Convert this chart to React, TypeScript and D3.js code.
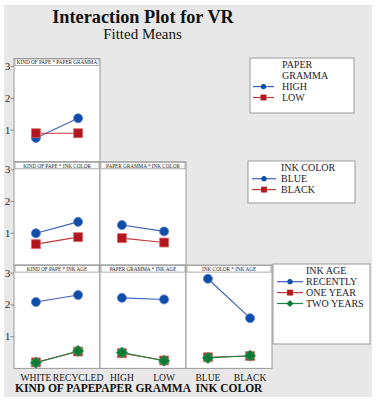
import React from "react";
import * as d3 from "d3";

const kindOfPaper = ["WHITE", "RECYCLED"];
const paperGramma = ["HIGH", "LOW"];
const inkColor = ["BLUE", "BLACK"];
const inkAge = ["RECENTLY", "ONE YEAR", "TWO YEARS"];
const yTicks = [1, 2, 3];

// Row 1: KIND OF PAPER * PAPER GRAMMA
const kpGrammaHigh = [0.75, 1.37];
const kpGrammaLow = [0.9, 0.9];
// Row 2: KIND OF PAPER * INK COLOR
const kpInkBlue = [1.0, 1.36];
const kpInkBlack = [0.66, 0.88];
// Row 2: PAPER GRAMMA * INK COLOR
const pgInkBlue = [1.26, 1.06];
const pgInkBlack = [0.85, 0.71];
// Row 3: KIND OF PAPER * INK AGE
const kpAgeRecently = [2.09, 2.31];
const kpAgeOneYear = [0.19, 0.53];
const kpAgeTwoYears = [0.18, 0.55];
// Row 3: PAPER GRAMMA * INK AGE
const pgAgeRecently = [2.22, 2.17];
const pgAgeOneYear = [0.48, 0.25];
const pgAgeTwoYears = [0.5, 0.24];
// Row 3: INK COLOR * INK AGE
const icAgeRecently = [2.82, 1.58];
const icAgeOneYear = [0.35, 0.39];
const icAgeTwoYears = [0.33, 0.4];

const FONT = "'Liberation Serif', 'Times New Roman', serif";
const BLUE = "#0f4ea8";
const BLUE_LINE = "#3c5fbb";
const RED = "#b2151d";
const RED_LINE = "#c23a3e";
const GREEN = "#0e7a38";
const GREEN_LINE = "#17883f";
const BORDER = "#9a9a9a";

const styles = [
  { fill: BLUE, line: BLUE_LINE, edge: "#5a7fcf", shape: d3.symbolCircle, size: 64, lsize: 22, rot: 0 },
  { fill: RED, line: RED_LINE, edge: "#d86a6a", shape: d3.symbolSquare, size: 80, lsize: 34, rot: 0 },
  { fill: GREEN, line: GREEN_LINE, edge: "#3aa05a", shape: d3.symbolSquare, size: 62, lsize: 26, rot: 45 },
];

const panels = [
  { row: 0, col: 0, strip: "KIND OF PAPE * PAPER GRAMMA", levels: kindOfPaper, series: [kpGrammaHigh, kpGrammaLow] },
  { row: 1, col: 0, strip: "KIND OF PAPE * INK COLOR", levels: kindOfPaper, series: [kpInkBlue, kpInkBlack] },
  { row: 1, col: 1, strip: "PAPER GRAMMA * INK COLOR", levels: paperGramma, series: [pgInkBlue, pgInkBlack] },
  { row: 2, col: 0, strip: "KIND OF PAPE * INK AGE", levels: kindOfPaper, series: [kpAgeRecently, kpAgeOneYear, kpAgeTwoYears] },
  { row: 2, col: 1, strip: "PAPER GRAMMA * INK AGE", levels: paperGramma, series: [pgAgeRecently, pgAgeOneYear, pgAgeTwoYears] },
  { row: 2, col: 2, strip: "INK COLOR * INK AGE", levels: inkColor, series: [icAgeRecently, icAgeOneYear, icAgeTwoYears] },
];

const colLevels = [kindOfPaper, paperGramma, inkColor];
const colTitles = ["KIND OF PAPER", "PAPER GRAMMA", "INK COLOR"];

const legends = [
  { title: ["PAPER", "GRAMMA"], items: paperGramma, box: [250, 58, 104, 55], lineX: [253, 274], textX: 282 },
  { title: ["INK COLOR"], items: inkColor, box: [248, 161, 107, 42], lineX: [252, 276], textX: 281 },
  { title: ["INK AGE"], items: inkAge, box: [273, 264, 97, 80], lineX: [277, 303], textX: 306 },
];

const LEFT = 14;
const PW = 86;
const TOP = 58.5;
const PH = 103.3;
const STRIP = 6.5;

export default function App() {
  const y = (row: number) =>
    d3.scaleLinear().domain([0, 3.25]).range([TOP + (row + 1) * PH, TOP + row * PH]);
  const x = (col: number, levels: string[]) =>
    d3.scalePoint<string>().domain(levels).range([LEFT + col * PW, LEFT + (col + 1) * PW]).padding(0.52);
  const sym = (i: number, big: boolean) =>
    d3.symbol().type(styles[i].shape).size(big ? styles[i].size : styles[i].lsize)() as string;
  const circ = (size: number) => d3.symbol().type(d3.symbolCircle).size(size)() as string;

  return (
    <svg width={379} height={404} style={{ position: "absolute", left: 0, top: 0, fontFamily: FONT }}>
      <defs>
        <clipPath id="col0clip">
          <rect x={0} y={380} width={96} height={20} />
        </clipPath>
      </defs>
      <rect x={0} y={0} width={379} height={404} fill="#ffffff" />
      <rect x={4} y={5} width={368} height={392} fill="#e8e8e8" />
      <text x={143} y={22.5} textAnchor="middle" fontSize={18.3} fontWeight="bold" fill="#111">
        Interaction Plot for VR
      </text>
      <text x={142.5} y={38.5} textAnchor="middle" fontSize={15} fill="#111">
        Fitted Means
      </text>

      {panels.map((p, pi) => {
        const ys = y(p.row);
        const xs = x(p.col, p.levels);
        const x0 = LEFT + p.col * PW;
        const y0 = TOP + p.row * PH;
        const line = d3
          .line<number>()
          .x((_, i) => xs(p.levels[i]) as number)
          .y((v) => ys(v));
        return (
          <g key={pi}>
            <rect x={x0} y={y0} width={PW} height={PH} fill="#fff" stroke={BORDER} strokeWidth={1} />
            <rect x={x0 + 1} y={y0 + 0.5} width={PW - 2} height={STRIP} fill="#fff" stroke={BORDER} strokeWidth={0.8} />
            <text x={x0 + PW / 2} y={y0 + STRIP - 0.8} textAnchor="middle" fontSize={5.2} fill="#222">
              {p.strip}
            </text>
            {p.series.map((vals, si) => (
              <g key={si}>
                <path d={line(vals) as string} fill="none" stroke={styles[si].line} strokeWidth={1.1} />
                {vals.map((v, i) => (
                  <g key={i} transform={`translate(${xs(p.levels[i])},${ys(v)})`}>
                    {si === 2 && <path d={circ(60)} fill={styles[si].fill} stroke={styles[si].edge} strokeWidth={0.6} />}
                    <path
                      d={sym(si, true)}
                      transform={`rotate(${styles[si].rot})`}
                      fill={styles[si].fill}
                      stroke={styles[si].edge}
                      strokeWidth={0.8}
                    />
                  </g>
                ))}
              </g>
            ))}
          </g>
        );
      })}

      {[0, 1, 2].map((row) => {
        const ys = y(row);
        return (
          <g key={row}>
            {yTicks.map((t) => (
              <g key={t}>
                <line x1={LEFT - 3.5} x2={LEFT} y1={ys(t)} y2={ys(t)} stroke="#777" strokeWidth={0.8} />
                <text x={7.5} y={ys(t) + 3.5} textAnchor="middle" fontSize={10.5} fill="#222">
                  {t}
                </text>
              </g>
            ))}
          </g>
        );
      })}

      {colLevels.map((levels, col) => {
        const xs = x(col, levels);
        return (
          <g key={col}>
            {levels.map((l) => (
              <text key={l} x={xs(l)} y={380.5} textAnchor="middle" fontSize={9.6} fill="#1a1a1a">
                {l}
              </text>
            ))}
            <text
              x={col === 0 ? 15 : LEFT + col * PW + PW / 2}
              y={392}
              textAnchor={col === 0 ? "start" : "middle"}
              fontSize={11.5}
              fontWeight="bold"
              fill="#111"
              clipPath={col === 0 ? "url(#col0clip)" : undefined}
            >
              {colTitles[col]}
            </text>
          </g>
        );
      })}

      {legends.map((lg, li) => {
        const [bx, by, bw, bh] = lg.box;
        const lineH = 10.9;
        const firstY = by + 10.3;
        return (
          <g key={li}>
            <rect x={bx} y={by} width={bw} height={bh} fill="#fff" stroke={BORDER} strokeWidth={1} />
            {lg.title.map((t, ti) => (
              <text key={t} x={lg.textX} y={firstY + ti * lineH} fontSize={10} fill="#1a1a2a">
                {t}
              </text>
            ))}
            {lg.items.map((it, ii) => {
              const cy = firstY + (lg.title.length + ii) * lineH - 3.5;
              return (
                <g key={it}>
                  <line x1={lg.lineX[0]} x2={lg.lineX[1]} y1={cy} y2={cy} stroke={styles[ii].line} strokeWidth={1.2} />
                  <path
                    d={sym(ii, false)}
                    transform={`translate(${(lg.lineX[0] + lg.lineX[1]) / 2},${cy}) rotate(${styles[ii].rot})`}
                    fill={styles[ii].fill}
                  />
                  <text x={lg.textX} y={firstY + (lg.title.length + ii) * lineH} fontSize={10} fill="#1a1a2a">
                    {it}
                  </text>
                </g>
              );
            })}
          </g>
        );
      })}
    </svg>
  );
}
